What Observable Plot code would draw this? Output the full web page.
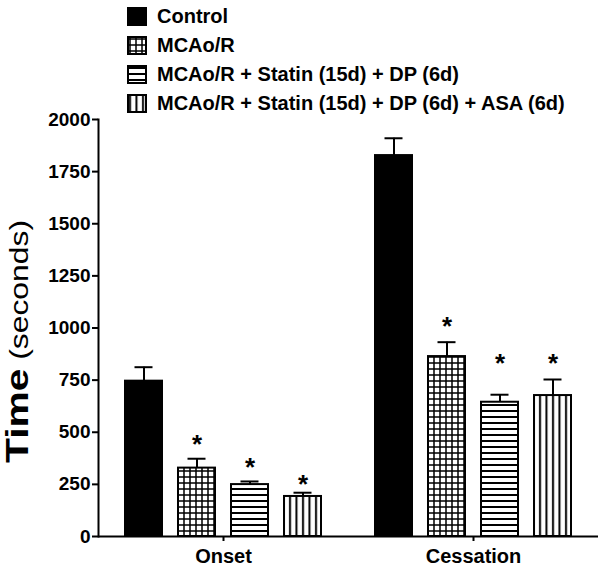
<!DOCTYPE html>
<html><head><meta charset="utf-8">
<script src="https://cdn.jsdelivr.net/npm/d3@7"></script>
<script src="https://cdn.jsdelivr.net/npm/@observablehq/plot@0.6"></script>
<style>
body{margin:0;background:#fff;font-family:"Liberation Sans",Arial,sans-serif;}
#wrap{position:relative;width:600px;height:566px;}
#legend{position:absolute;left:127px;top:1.5px;z-index:2;}
.row{display:flex;align-items:center;height:29px;}
.row svg{margin-right:10px;flex:none;}
.row span{font-size:20px;font-weight:bold;color:#000;white-space:nowrap;}
</style></head><body>
<svg width="0" height="0" style="position:absolute">
  <defs>
    <pattern id="pGrid" width="6" height="6" patternUnits="userSpaceOnUse">
      <rect width="6" height="6" fill="white"/>
      <path d="M0 3H6M3 0V6" stroke="black" stroke-width="1.5" fill="none"/>
    </pattern>
    <pattern id="pH" width="6" height="6" patternUnits="userSpaceOnUse">
      <rect width="6" height="6" fill="white"/>
      <path d="M0 3H6" stroke="black" stroke-width="2" fill="none"/>
    </pattern>
    <pattern id="pV" width="6.5" height="6" patternUnits="userSpaceOnUse">
      <rect width="6.5" height="6" fill="white"/>
      <path d="M3 0V6" stroke="black" stroke-width="2" fill="none"/>
    </pattern>
  </defs>
</svg>
<div id="wrap"><div id="legend"></div><div id="chart"></div></div>
<script>
const groups = ["Onset", "Cessation"];
const series = ["Control", "MCAo/R", "MCAo/R + Statin (15d) + DP (6d)", "MCAo/R + Statin (15d) + DP (6d) + ASA (6d)"];
const onsetMean = [745, 328, 249, 192];
const onsetSem = [67, 45, 15, 18];
const cessationMean = [1827, 863, 644, 676];
const cessationSem = [83, 69, 36, 77];
const onsetStar = [null, 470, 360, 278];
const cessationStar = [null, 1036, 858, 858];
const fills = ["black", "url(#pGrid)", "url(#pH)", "url(#pV)"];
const yTicks = [0, 250, 500, 750, 1000, 1250, 1500, 1750, 2000];

const means = [onsetMean, cessationMean];
const sems = [onsetSem, cessationSem];
const stars = [onsetStar, cessationStar];
const data = groups.flatMap((g, gi) => series.map((s, si) => ({
  group: g, series: s, mean: means[gi][si], sem: sems[gi][si], star: stars[gi][si]
})));

const plot = Plot.plot({
  width: 600, height: 566,
  marginTop: 119, marginBottom: 30, marginLeft: 97, marginRight: 2,
  style: {fontFamily: "Liberation Sans, Arial, sans-serif", fontSize: "19px", fontWeight: "bold", color: "black", background: "transparent"},
  fx: {domain: groups, padding: 0},
  x: {domain: series, paddingInner: 0.3, paddingOuter: 0.5, axis: null},
  y: {domain: [0, 2000]},
  color: {domain: series, range: fills},
  marks: [
    Plot.ruleX(data, {fx: "group", x: "series", y1: "mean", y2: d => d.mean + d.sem, strokeWidth: 2}),
    Plot.tickY(data, {fx: "group", x: "series", y: d => d.mean + d.sem, strokeWidth: 2, inset: 9.5}),
    Plot.barY(data, {fx: "group", x: "series", y: "mean", fill: "series", stroke: "black", strokeWidth: 2}),
    Plot.text(data.filter(d => d.star != null), {fx: "group", x: "series", y: "star", text: () => "*", fontSize: 26, dy: 6}),
    Plot.ruleY([0], {strokeWidth: 2}),
    Plot.frame({anchor: "left", facetAnchor: "left", strokeWidth: 2}),
    Plot.axisY({ticks: yTicks, tickFormat: "d", tickSize: 6, tickPadding: 2, strokeWidth: 2, label: null, fontSize: 19}),
    Plot.axisFx({anchor: "bottom", tickSize: 5, tickPadding: 7, strokeWidth: 2, label: null, fontSize: 20})
  ]
});

const yl = d3.select(plot).append("text")
  .attr("transform", "translate(28,341.5) rotate(-90)")
  .attr("text-anchor", "middle")
  .attr("textLength", 243).attr("lengthAdjust", "spacingAndGlyphs")
  .attr("fill", "black");
yl.append("tspan").attr("font-size", 32).attr("font-weight", "bold").text("Time");
yl.append("tspan").attr("font-size", 25).attr("font-weight", "normal").text(" (seconds)");

document.getElementById("chart").appendChild(plot);

const leg = d3.select("#legend");
series.forEach((s, i) => {
  const row = leg.append("div").attr("class", "row");
  const sv = row.append("svg").attr("width", 20).attr("height", 19);
  sv.append("rect").attr("x", 1).attr("y", 1).attr("width", 18).attr("height", 17)
    .attr("fill", fills[i]).attr("stroke", "black").attr("stroke-width", 2);
  row.append("span").text(s);
});
</script>
</body></html>
